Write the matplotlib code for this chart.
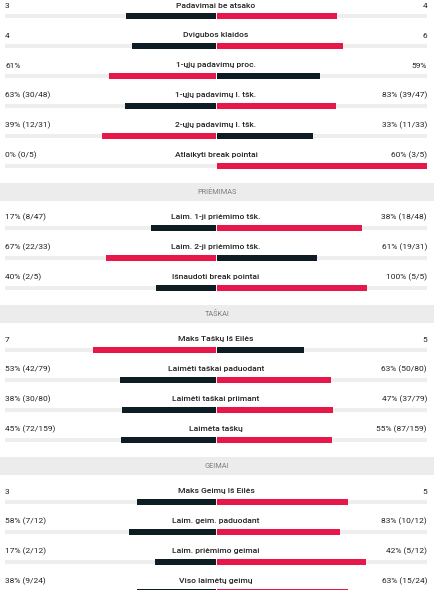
"""Tennis match statistics comparison (Lithuanian labels)."""

import matplotlib
matplotlib.use("Agg")
import matplotlib.pyplot as plt

# ---- data -------------------------------------------------------------
sections = [None, "PRIĖMIMAS", "TAŠKAI", "GEIMAI"]

labels = [
    ["Padavimai be atsako", "Dvigubos klaidos", "1-ųjų padavimų proc.",
     "1-ųjų padavimų l. tšk.", "2-ųjų padavimų l. tšk.", "Atlaikyti break pointai"],
    ["Laim. 1-ji priėmimo tšk.", "Laim. 2-ji priėmimo tšk.", "Išnaudoti break pointai"],
    ["Maks Taškų Iš Eilės", "Laimėti taškai paduodant", "Laimėti taškai priimant", "Laimėta taškų"],
    ["Maks Geimų Iš Eilės", "Laim. geim. paduodant", "Laim. priėmimo geimai", "Viso laimėtų geimų"],
]

left_text = [
    ["3", "4", "61%", "63% (30/48)", "39% (12/31)", "0% (0/5)"],
    ["17% (8/47)", "67% (22/33)", "40% (2/5)"],
    ["7", "53% (42/79)", "38% (30/80)", "45% (72/159)"],
    ["3", "58% (7/12)", "17% (2/12)", "38% (9/24)"],
]
right_text = [
    ["4", "6", "59%", "83% (39/47)", "33% (11/33)", "60% (3/5)"],
    ["38% (18/48)", "61% (19/31)", "100% (5/5)"],
    ["5", "63% (50/80)", "47% (37/79)", "55% (87/159)"],
    ["5", "83% (10/12)", "42% (5/12)", "63% (15/24)"],
]

left_vals = [
    [3, 4, 61, 63, 39, 0],
    [17, 67, 40],
    [7, 53, 38, 45],
    [3, 58, 17, 38],
]
right_vals = [
    [4, 6, 59, 83, 33, 60],
    [38, 61, 100],
    [5, 63, 47, 55],
    [5, 83, 42, 63],
]

# ---- style ------------------------------------------------------------
RED = "#e8174a"
DARK = "#0e1c24"
TRACK = "#eeeeee"
BAND = "#ececec"
TEXT = "#222222"
HEAD_TEXT = "#7d7d7d"

plt.rcParams["font.family"] = ["Roboto", "DejaVu Sans"]

W, H = 434, 590
fig = plt.figure(figsize=(W / 100, H / 100), dpi=100)
fig.patch.set_facecolor("white")

# axes covering the bar track; x in [-1, 1], y in pixels (top = 0)
left_px, right_px = 5, 427
ax = fig.add_axes([left_px / W, 0, (right_px - left_px) / W, 1])
ax.set_xlim(-1, 1)
ax.set_ylim(H, 0)
ax.axis("off")

# band axes spanning whole width for section headers
bax = fig.add_axes([0, 0, 1, 1], zorder=-1)
bax.set_xlim(0, W)
bax.set_ylim(H, 0)
bax.axis("off")

gap = 0.5 / 211
y = 16.0
row_step = 30.0
for s, head in enumerate(sections):
    if head is not None:
        band_c = y - row_step + 26
        bax.axhspan(band_c - 9, band_c + 9, color=BAND, lw=0)
        bax.text(W / 2, band_c, head, ha="center", va="center",
                 fontsize=5.3, color=HEAD_TEXT)
        y += 32
    for i, lab in enumerate(labels[s]):
        lv, rv = left_vals[s][i], right_vals[s][i]
        total = lv + rv
        lf = lv / total if total else 0
        rf = rv / total if total else 0
        lcol = RED if lv > rv else DARK
        rcol = RED if rv > lv else DARK

        ax.barh(y, 2, left=-1, height=4.6, color=TRACK, lw=0)
        if lf > 0:
            ax.barh(y, -(lf - gap), left=-gap, height=5.6, color=lcol, lw=0)
        if rf > 0:
            ax.barh(y, rf - gap, left=gap, height=5.6, color=rcol, lw=0)

        ty = y - 10.5
        ax.text(-1, ty, left_text[s][i], ha="left", va="center",
                fontsize=6.0, color=TEXT)
        ax.text(1, ty, right_text[s][i], ha="right", va="center",
                fontsize=6.0, color=TEXT)
        ax.text(0, ty, lab, ha="center", va="center", fontsize=6.1,
                color=TEXT, fontweight="medium")
        y += row_step

fig.savefig("out.png", dpi=100)
